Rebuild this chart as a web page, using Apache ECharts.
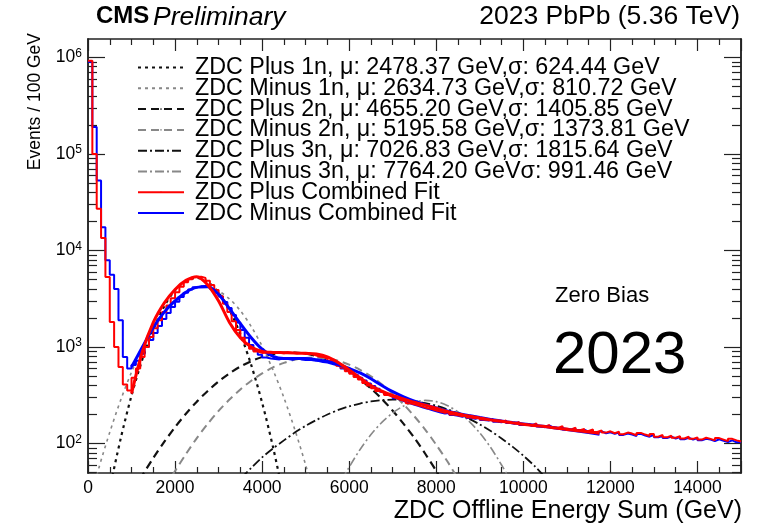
<!DOCTYPE html>
<html>
<head>
<meta charset="utf-8">
<script src="https://cdn.jsdelivr.net/npm/echarts@6/dist/echarts.min.js"></script>
<style>
  html, body { margin: 0; padding: 0; background: #fff; }
  #chart { width: 774px; height: 530px; }
</style>
</head>
<body>
<div id="chart"></div>
<script>
// histogram binning (GeV)
const binWidth = 100;
const xMax = 15000;

// events per 100 GeV bin, bin i covers [i*100, (i+1)*100)
const plusCounts = [
  920000, 100000, 27000, 13500, 5300, 1820, 1000, 620, 410, 355,
  480, 600, 790, 1000, 1270, 1570, 1900, 2300, 2700, 3200,
  3700, 4200, 4700, 5050, 5300, 5350, 5200, 4850, 4400, 3900,
  3350, 2800, 2300, 1850, 1500, 1250, 1080, 960, 900, 870,
  880, 865, 890, 875, 860, 885, 870, 855, 870, 845,
  860, 830, 800, 790, 760, 720, 690, 640, 610, 560,
  530, 490, 460, 425, 400, 375, 350, 335, 318, 305,
  295, 282, 275, 262, 255, 248, 240, 232, 228, 220,
  215, 208, 212, 200, 196, 192, 198, 186, 183, 188,
  178, 175, 180, 170, 168, 174, 165, 162, 168, 158,
  160, 155, 162, 152, 150, 156, 148, 145, 152, 143,
  140, 146, 138, 142, 135, 140, 132, 137, 130, 134,
  128, 133, 125, 130, 127, 122, 129, 124, 120, 126,
  118, 123, 116, 121, 115, 119, 113, 118, 112, 116,
  110, 115, 112, 108, 114, 110, 106, 112, 108, 105
];
const minusCounts = [
  900000, 190000, 53000, 17400, 7900, 5600, 4000, 1900, 790, 600,
  650, 720, 850, 1000, 1180, 1400, 1650, 1950, 2250, 2600,
  2950, 3300, 3650, 3950, 4150, 4250, 4280, 4180, 3980, 3680,
  3330, 2930, 2530, 2150, 1800, 1500, 1250, 1050, 920, 830,
  780, 760, 750, 745, 760, 750, 740, 760, 745, 735,
  740, 725, 715, 700, 690, 670, 650, 630, 600, 575,
  545, 515, 480, 450, 420, 395, 370, 345, 325, 310,
  295, 282, 270, 262, 252, 245, 236, 230, 222, 216,
  210, 205, 208, 198, 194, 190, 195, 184, 181, 186,
  176, 173, 178, 168, 166, 171, 163, 160, 165, 156,
  158, 153, 159, 150, 148, 153, 146, 143, 149, 140,
  138, 143, 136, 139, 133, 137, 130, 134, 128, 131,
  126, 130, 123, 127, 124, 120, 126, 121, 118, 123,
  116, 120, 114, 118, 113, 117, 111, 115, 110, 114,
  108, 112, 110, 106, 111, 107, 104, 108, 103, 104
];

// sample energies for the fitted curves (GeV)
const curveE = [
  0, 250, 500, 750, 1000, 1250, 1500, 1750, 2000, 2250,
  2500, 2750, 3000, 3250, 3500, 3750, 4000, 4250, 4500, 4750,
  5000, 5250, 5500, 5750, 6000, 6250, 6500, 6750, 7000, 7250,
  7500, 7750, 8000, 8250, 8500, 8750, 9000, 9250, 9500, 9750,
  10000, 10250, 10500, 10750, 11000, 11250, 11500, 11750
];
const plus1n = [
  null, 9, 34, 112, 315, 750, 1520, 2630, 3880, 4860,
  5200, 4730, 3660, 2420, 1360, 650, 265, 92, 27, 7
];
const minus1n = [
  21, 56, 131, 282, 550, 977, 1580, 2315, 3090, 3750,
  4140, 4160, 3800, 3150, 2380, 1630, 1020, 578, 299, 140,
  60, 23
];
const plus2n = [
  null, null, null, 19, 30, 47, 71, 104, 148, 204,
  272, 351, 440, 534, 628, 715, 790, 844, 875, 878,
  854, 805, 735, 650, 557, 462, 372, 290, 219, 160,
  114, 78, 52, 33, 21
];
const minus2n = [
  null, null, null, null, null, null, 21, 34, 52, 78,
  114, 160, 218, 286, 364, 448, 534, 615, 686, 740,
  772, 779, 761, 719, 657, 581, 497, 411, 329, 255,
  191, 139, 97, 66, 43, 28
];
const plus3n = [
  null, null, null, null, null, null, null, null, null, null,
  null, null, 24, 33, 43, 56, 72, 89, 108, 130,
  153, 176, 200, 223, 243, 260, 273, 282, 285, 283,
  275, 263, 247, 227, 205, 181, 158, 135, 113, 93,
  75, 59, 45, 35, 26
];
const minus3n = [
  null, null, null, null, null, null, null, null, null, null,
  null, null, null, null, null, null, null, null, null, null,
  null, null, 20, 36, 57, 87, 124, 166, 208, 245,
  270, 280, 272, 248, 213, 171, 129, 91, 60, 38,
  22
];
const plusFit = [
  null, null, null, null, 330, 900, 1800, 2850, 3950, 4900,
  5350, 4400, 3000, 1800, 1250, 1000, 900, 880, 875, 870,
  860, 845, 790, 690, 580, 480, 400, 350, 315, 290,
  268, 250, 232, 215, 203, 193, 184, 176, 170, 164,
  159, 154, 150, 145, 140, 136, 132, 128
];
const minusFit = [
  null, null, null, null, 620, 1000, 1600, 2300, 3000, 3700,
  4150, 4200, 3500, 2500, 1750, 1250, 950, 800, 760, 760,
  760, 740, 710, 660, 600, 540, 470, 400, 345, 305,
  275, 252, 234, 218, 205, 195, 186, 178, 171, 165,
  160, 155, 150, 145, 140, 135, 130, 125
];

const legendNames = [
  'ZDC Plus 1n, \u03bc: 2478.37 GeV,\u03c3: 624.44 GeV',
  'ZDC Minus 1n, \u03bc: 2634.73 GeV,\u03c3: 810.72 GeV',
  'ZDC Plus 2n, \u03bc: 4655.20 GeV,\u03c3: 1405.85 GeV',
  'ZDC Minus 2n, \u03bc: 5195.58 GeV,\u03c3: 1373.81 GeV',
  'ZDC Plus 3n, \u03bc: 7026.83 GeV,\u03c3: 1815.64 GeV',
  'ZDC Minus 3n, \u03bc: 7764.20 GeV\u03c3: 991.46 GeV',
  'ZDC Plus Combined Fit',
  'ZDC Minus Combined Fit'
];

const yMin = 49.6;
const yMax = 1.55e6;
const yMajorTicks = [100, 1000, 10000, 100000, 1000000];
const yMinorTicks = [
  50, 60, 70, 80, 90,
  200, 300, 400, 500, 600, 700, 800, 900,
  2000, 3000, 4000, 5000, 6000, 7000, 8000, 9000,
  20000, 30000, 40000, 50000, 60000, 70000, 80000, 90000,
  200000, 300000, 400000, 500000, 600000, 700000, 800000, 900000
];

const font = '"Liberation Sans", Arial, Helvetica, sans-serif';
const frame = '#222';

function histPoints(counts) {
  const pts = counts.map((c, i) => [i * binWidth, c]);
  pts.push([counts.length * binWidth, counts[counts.length - 1]]);
  return pts;
}

function curvePoints(values) {
  return curveE.slice(0, values.length).map((e, i) => [e, values[i]]);
}

function gauss(name, values, color, width, dash) {
  return {
    name, type: 'line', data: curvePoints(values), showSymbol: false, symbol: 'none',
    smooth: 0.3, clip: true, connectNulls: false,
    lineStyle: { color, width, type: dash }, itemStyle: { color },
    emphasis: { disabled: true }
  };
}

function xAxisBase(position) {
  return {
    type: 'value', position, min: 0, max: xMax, interval: 2000,
    axisLine: { show: true, onZero: false, lineStyle: { color: frame, width: 1.5 } },
    axisTick: { show: true, inside: true, length: 12, lineStyle: { color: frame, width: 1.2 } },
    minorTick: { show: true, splitNumber: 4, length: 6, lineStyle: { color: frame, width: 1.2 } },
    splitLine: { show: false },
    axisLabel: position === 'bottom'
      ? { show: true, fontSize: 17.5, fontFamily: font, color: '#000', margin: 6, formatter: v => String(v) }
      : { show: false }
  };
}

function yAxisBase(position, ticks, len, labels) {
  return {
    type: 'log', logBase: 10, position, min: yMin, max: yMax,
    axisLine: { show: true, onZero: false, lineStyle: { color: frame, width: 1.5 } },
    axisTick: { show: true, inside: true, length: len, customValues: ticks, lineStyle: { color: frame, width: 1.2 } },
    splitLine: { show: false },
    axisLabel: labels ? {
      show: true, customValues: yMajorTicks, margin: 6, color: '#000',
      formatter: v => '{b|10}{e|' + Math.round(Math.log10(v)) + '}',
      rich: {
        b: { fontSize: 17.5, fontFamily: font, color: '#000', lineHeight: 20 },
        e: { fontSize: 12, fontFamily: font, color: '#000', verticalAlign: 'top', lineHeight: 12 }
      }
    } : { show: false }
  };
}

const chart = echarts.init(document.getElementById('chart'), null, { renderer: 'canvas' });

chart.setOption({
  animation: false,
  backgroundColor: '#fff',
  grid: { left: 88, right: 33, top: 39, bottom: 57, containLabel: false },
  xAxis: [xAxisBase('bottom'), xAxisBase('top')],
  yAxis: [
    yAxisBase('left', yMajorTicks, 17, true),
    yAxisBase('left', yMinorTicks, 9, false),
    yAxisBase('right', yMajorTicks, 17, false),
    yAxisBase('right', yMinorTicks, 9, false)
  ],
  legend: {
    data: legendNames,
    orient: 'vertical',
    left: 137, top: 56, padding: 0,
    itemWidth: 46, itemHeight: 2, itemGap: -2.2,
    selectedMode: false,
    textStyle: { fontSize: 23.3, fontFamily: font, color: '#000', padding: [0, 0, 0, 6] }
  },
  series: [
    gauss(legendNames[0], plus1n, '#111', 2.2, [3, 4]),
    gauss(legendNames[1], minus1n, '#888', 1.6, [3, 4]),
    gauss(legendNames[2], plus2n, '#111', 2.2, [8, 5]),
    gauss(legendNames[3], minus2n, '#888', 2.0, [8, 5]),
    gauss(legendNames[4], plus3n, '#111', 1.8, [9, 3, 2, 3]),
    gauss(legendNames[5], minus3n, '#888', 1.6, [9, 3, 2, 3]),
    {
      name: 'ZDC Minus data', type: 'line', step: 'end', data: histPoints(minusCounts),
      showSymbol: false, symbol: 'none', lineStyle: { color: '#0000ff', width: 2 }, emphasis: { disabled: true }
    },
    {
      name: 'ZDC Plus data', type: 'line', step: 'end', data: histPoints(plusCounts),
      showSymbol: false, symbol: 'none', lineStyle: { color: '#ff0000', width: 2 }, emphasis: { disabled: true }
    },
    {
      name: legendNames[7], type: 'line', data: curvePoints(minusFit), smooth: 0.3,
      showSymbol: false, symbol: 'none', lineStyle: { color: '#0000ff', width: 3 }, itemStyle: { color: '#0000ff' },
      emphasis: { disabled: true }
    },
    {
      name: legendNames[6], type: 'line', data: curvePoints(plusFit), smooth: 0.3,
      showSymbol: false, symbol: 'none', lineStyle: { color: '#ff0000', width: 3 }, itemStyle: { color: '#ff0000' },
      emphasis: { disabled: true }
    }
  ],
  graphic: [
    { type: 'text', left: 96, top: 4, style: { text: 'CMS', font: 'bold 24px ' + font, fill: '#000' } },
    { type: 'text', left: 153, top: 4, style: { text: 'Preliminary', font: 'italic 26.5px ' + font, fill: '#000' } },
    { type: 'text', right: 34, top: 3, style: { text: '2023 PbPb (5.36 TeV)', font: '26.5px ' + font, fill: '#000' } },
    {
      type: 'text', x: 35, y: 33, rotation: Math.PI / 2,
      style: { text: 'Events / 100 GeV', font: '17.5px ' + font, fill: '#000', align: 'right', verticalAlign: 'middle' }
    },
    { type: 'text', right: 32, top: 499, style: { text: 'ZDC Offline Energy Sum (GeV)', font: '25px ' + font, fill: '#000' } },
    { type: 'text', left: 555, top: 285, style: { text: 'Zero Bias', font: '22px ' + font, fill: '#000' } },
    { type: 'text', left: 553, top: 326, style: { text: '2023', font: '60px ' + font, fill: '#000' } }
  ]
});
</script>
</body>
</html>
